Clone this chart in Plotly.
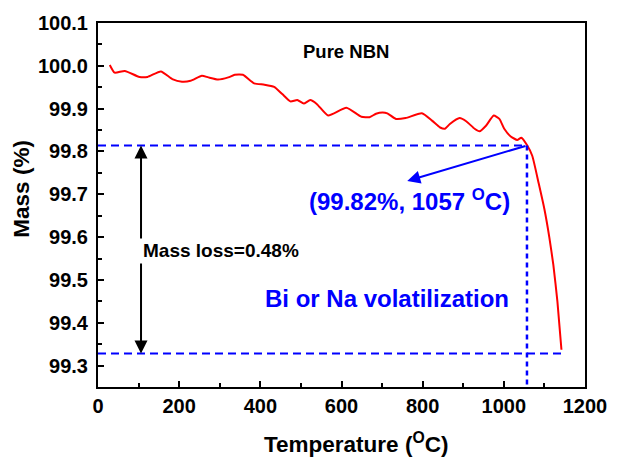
import plotly.graph_objects as go

# Data
temperature = [29, 41, 66, 102, 122, 155, 183, 207, 228, 256, 272, 296, 321, 337, 357,
               385, 410, 434, 454, 474, 491, 507, 523, 539, 567, 612, 649, 669, 685,
               701, 713, 734, 758, 798, 823, 843, 855, 867, 891, 908, 928, 940, 956,
               975, 989, 1001, 1017, 1033, 1043, 1057, 1070, 1086, 1100, 1112, 1122, 1132, 1142]
mass = [100.002, 99.984, 99.988, 99.974, 99.974, 99.987, 99.969, 99.963, 99.965, 99.977,
        99.973, 99.968, 99.973, 99.979, 99.979, 99.959, 99.956, 99.951, 99.934, 99.917,
        99.920, 99.912, 99.920, 99.911, 99.884, 99.902, 99.881, 99.880, 99.888, 99.891,
        99.889, 99.876, 99.878, 99.889, 99.872, 99.856, 99.853, 99.864, 99.878, 99.870,
        99.853, 99.847, 99.860, 99.884, 99.876, 99.853, 99.835, 99.827, 99.832, 99.815,
        99.790, 99.725, 99.665, 99.600, 99.535, 99.450, 99.337]

onset_T = 1057
onset_mass = 99.814
final_mass = 99.328
final_T = 1142
x_ticks = [0, 200, 400, 600, 800, 1000, 1200]
y_ticks = [99.3, 99.4, 99.5, 99.6, 99.7, 99.8, 99.9, 100.0, 100.1]

FONT = "Arial, Liberation Sans, sans-serif"
BLUE = "#0000ff"

fig = go.Figure()
fig.add_trace(go.Scatter(x=temperature, y=mass, mode="lines",
                         line=dict(color="#ff0000", width=2, shape="spline", smoothing=0.5),
                         showlegend=False, hoverinfo="skip"))
# dashed guide lines
fig.add_trace(go.Scatter(x=[0, onset_T], y=[onset_mass, onset_mass], mode="lines",
                         line=dict(color=BLUE, width=2, dash="8px,5px"), showlegend=False))
fig.add_trace(go.Scatter(x=[0, final_T], y=[final_mass, final_mass], mode="lines",
                         line=dict(color=BLUE, width=2, dash="8px,5px"), showlegend=False))
fig.add_trace(go.Scatter(x=[onset_T, onset_T], y=[onset_mass, 99.25], mode="lines",
                         line=dict(color=BLUE, width=2.5, dash="5px,4px"), showlegend=False))

annotations = [
    # black double arrow (two halves)
    dict(x=106, y=onset_mass, ax=106, ay=99.593, xref="x", yref="y", axref="x", ayref="y",
         text="", showarrow=True, arrowhead=2, arrowsize=1.3, arrowwidth=2, arrowcolor="black"),
    dict(x=106, y=final_mass, ax=106, ay=99.542, xref="x", yref="y", axref="x", ayref="y",
         text="", showarrow=True, arrowhead=2, arrowsize=1.3, arrowwidth=2, arrowcolor="black"),
    dict(x=106, y=99.568, xref="x", yref="y", text="Mass loss=0.48%", showarrow=False,
         xanchor="left", yanchor="middle",
         font=dict(family=FONT, size=19, color="black", weight="bold")),
    # blue arrow
    dict(x=762, y=99.731, ax=onset_T, ay=onset_mass, xref="x", yref="y", axref="x", ayref="y",
         text="", showarrow=True, arrowhead=2, arrowsize=1.3, arrowwidth=2, arrowcolor=BLUE),
    dict(x=767, y=99.686, xref="x", yref="y", text="(99.82%, 1057 <sup>O</sup>C)",
         showarrow=False, font=dict(family=FONT, size=24, color=BLUE, weight="bold")),
    dict(x=712, y=99.456, xref="x", yref="y", text="Bi or Na volatilization",
         showarrow=False, font=dict(family=FONT, size=24, color=BLUE, weight="bold")),
    dict(x=611, y=100.033, xref="x", yref="y", text="Pure NBN",
         showarrow=False, font=dict(family=FONT, size=18.5, color="black", weight="bold")),
    # axis titles
    dict(x=360 / 619, y=1 - 443 / 459, xref="paper", yref="paper",
         text="Temperature (<sup>O</sup>C)", showarrow=False, xanchor="center", yanchor="middle",
         font=dict(family=FONT, size=22.5, color="black", weight="bold")),
    dict(x=20 / 619, y=1 - 188 / 459, xref="paper", yref="paper",
         text="Mass (%)", showarrow=False, textangle=-90, xanchor="center", yanchor="middle",
         font=dict(family=FONT, size=22.5, color="black", weight="bold")),
]

# convert paper coordinates for axis titles into fractions of the plot area
W, H = 619, 459
ml, mr, mt, mb = 98, 27, 22, 72
pw, ph = W - ml - mr, H - mt - mb
for a in annotations[-2:]:
    px = a["x"] * W
    py = (1 - a["y"]) * H
    a["x"] = (px - ml) / pw
    a["y"] = 1 - (py - mt) / ph

fig.update_layout(
    width=W, height=H,
    margin=dict(l=ml, r=mr, t=mt, b=mb, pad=0),
    plot_bgcolor="white", paper_bgcolor="white",
    annotations=annotations,
    font=dict(family=FONT),
)
fig.update_xaxes(range=[0, 1200], tickvals=x_ticks, ticktext=[str(v) for v in x_ticks],
                 showline=True, linecolor="black", linewidth=2, mirror=True,
                 ticks="inside", ticklen=6, tickwidth=2, tickcolor="black",
                 minor=dict(ticks="inside", ticklen=4, tickwidth=2, tickcolor="black", dtick=100, showgrid=False),
                 showgrid=False, zeroline=False,
                 tickfont=dict(family=FONT, size=20, color="black", weight="bold"))
fig.update_yaxes(range=[99.25, 100.1], tickvals=y_ticks, ticktext=[f"{v:.1f}" for v in y_ticks],
                 showline=True, linecolor="black", linewidth=2, mirror=True,
                 ticks="inside", ticklen=6, tickwidth=2, tickcolor="black", ticklabelstandoff=4,
                 minor=dict(ticks="inside", ticklen=4, tickwidth=2, tickcolor="black", dtick=0.05,
                            tick0=99.25, showgrid=False),
                 showgrid=False, zeroline=False,
                 tickfont=dict(family=FONT, size=20, color="black", weight="bold"))

fig.write_html("out.html")
